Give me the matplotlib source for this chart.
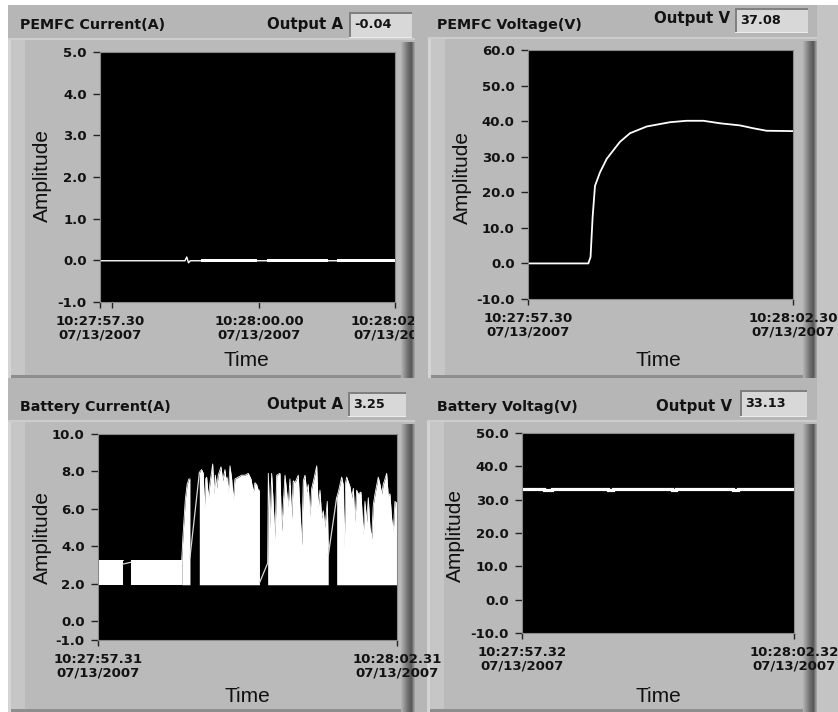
import matplotlib
matplotlib.use("Agg")
import matplotlib.pyplot as plt
from matplotlib.patches import Rectangle
from matplotlib.transforms import Bbox, TransformedBbox

W, H = 838, 712

# ---------------- data ----------------
# PEMFC current (A)
pi_xticks = [0.0, 2.7, 5.0]
pi_xminor = [0.2]
pi_xlabels = ["10:27:57.30\n07/13/2007", "10:28:00.00\n07/13/2007", "10:28:02.30\n07/13/2007"]
pi_yticks = [-1.0, 0.0, 1.0, 2.0, 3.0, 4.0, 5.0]
pi_ylabels = ["-1.0", "0.0", "1.0", "2.0", "3.0", "4.0", "5.0"]
pi_line_t = [0.0, 1.44, 1.47, 1.50, 1.53, 5.0]
pi_line_v = [-0.01, -0.01, 0.08, -0.06, -0.01, -0.01]
pi_band_start = [1.72, 2.83, 4.01]
pi_band_end = [2.66, 3.87, 5.0]
pi_band_lo = -0.045
pi_band_hi = 0.04
pi_output = "-0.04"

# PEMFC voltage (V)
pv_xticks = [0.0, 5.0]
pv_xlabels = ["10:27:57.30\n07/13/2007", "10:28:02.30\n07/13/2007"]
pv_yticks = [-10, 0, 10, 20, 30, 40, 50, 60]
pv_ylabels = ["-10.0", "0.0", "10.0", "20.0", "30.0", "40.0", "50.0", "60.0"]
pv_t = [0.0, 1.138, 1.18, 1.22, 1.264, 1.358, 1.485, 1.61, 1.736, 1.925, 2.24,
        2.68, 2.99, 3.31, 3.62, 4.0, 4.25, 4.50, 5.0]
pv_v = [0.0, 0.0, 1.8, 13.2, 21.8, 25.6, 29.4, 31.8, 34.2, 36.6, 38.5,
        39.7, 40.1, 40.1, 39.4, 38.8, 38.0, 37.3, 37.2]
pv_output = "37.08"

# Battery current (A)
bi_xticks = [0.0, 5.0]
bi_xlabels = ["10:27:57.31\n07/13/2007", "10:28:02.31\n07/13/2007"]
bi_yticks = [-1.0, 0.0, 2.0, 4.0, 6.0, 8.0, 10.0]
bi_ylabels = ["-1.0", "0.0", "2.0", "4.0", "6.0", "8.0", "10.0"]
bi_low = 1.95
b1_t = [0.0, 0.413]
b1_hi = [3.25, 3.25]
b2_t = [0.547, 1.40]
b2_hi = [3.25, 3.25]
b_ramp_t = [1.40, 1.42, 1.46, 1.49, 1.52, 1.538]
b_ramp_hi = [3.3, 4.5, 6.5, 7.3, 7.6, 7.6]
b3_t = [1.694, 1.705, 1.733, 1.761, 1.778, 1.80, 1.817, 1.845, 1.873, 1.918,
        1.94, 1.962, 1.985, 2.01, 2.057, 2.085, 2.123, 2.14, 2.157, 2.179,
        2.207, 2.235, 2.262, 2.29, 2.346, 2.40, 2.458, 2.513, 2.558, 2.597,
        2.625, 2.653, 2.68, 2.70]
b3_hi = [7.9, 8.0, 8.1, 7.9, 5.95, 7.6, 7.7, 6.6, 7.4, 8.4,
         6.8, 7.8, 7.1, 7.8, 8.25, 7.5, 8.1, 7.5, 7.7, 6.9,
         8.3, 7.6, 6.5, 7.6, 7.7, 7.8, 7.8, 7.9, 7.6, 6.9,
         7.4, 7.3, 7.0, 7.0]
b4_t = [2.837, 2.848, 2.876, 2.904, 2.96, 2.988, 3.043, 3.071, 3.127, 3.18,
        3.21, 3.239, 3.265, 3.294, 3.349, 3.406, 3.433, 3.461, 3.49, 3.516,
        3.545, 3.573, 3.61, 3.657, 3.683, 3.712, 3.74, 3.767, 3.795, 3.834,
        3.85]
b4_hi = [3.1, 7.9, 5.0, 7.9, 4.4, 7.8, 7.9, 4.8, 7.8, 6.1,
         7.6, 5.5, 7.5, 7.4, 7.8, 4.05, 7.5, 7.8, 6.9, 7.3,
         5.6, 7.1, 7.6, 8.3, 6.05, 7.0, 5.5, 5.9, 5.0, 6.4,
         4.0]
b5_t = [3.991, 4.018, 4.075, 4.10, 4.118, 4.14, 4.158, 4.213, 4.242, 4.27,
        4.297, 4.325, 4.352, 4.397, 4.436, 4.464, 4.493, 4.52, 4.548, 4.576,
        4.603, 4.632, 4.687, 4.716, 4.744, 4.77, 4.827, 4.854, 4.882, 4.91,
        4.938, 4.966, 5.0]
b5_hi = [6.6, 6.9, 7.7, 7.3, 3.95, 7.4, 7.7, 7.2, 6.6, 7.1,
         5.3, 7.0, 6.8, 6.9, 4.6, 6.4, 5.3, 6.6, 5.0, 4.4,
         6.2, 6.8, 7.7, 7.3, 6.8, 7.3, 7.9, 6.7, 6.8, 5.5,
         4.8, 6.4, 6.3]
gap_t = [[0.413, 0.547], [1.538, 1.694], [2.70, 2.837], [3.85, 3.991]]
gap_v = [[3.05, 3.15], [3.4, 7.9], [2.05, 3.1], [3.5, 6.6]]
bi_output = "3.25"

# Battery voltage (V)
bv_xticks = [0.0, 5.0]
bv_xlabels = ["10:27:57.32\n07/13/2007", "10:28:02.32\n07/13/2007"]
bv_yticks = [-10, 0, 10, 20, 30, 40, 50]
bv_ylabels = ["-10.0", "0.0", "10.0", "20.0", "30.0", "40.0", "50.0"]
bv_t = [0.0, 0.40, 0.40, 0.56, 0.56, 1.58, 1.58, 1.67, 1.67, 2.75, 2.75, 2.83,
        2.83, 3.88, 3.88, 3.97, 3.97, 5.0]
bv_v = [33.2, 33.2, 32.9, 32.9, 33.2, 33.2, 32.9, 32.9, 33.2, 33.2, 32.9, 32.9,
        33.2, 33.2, 32.9, 32.9, 33.2, 33.2]
bv_output = "33.13"

titles = ["PEMFC Current(A)", "PEMFC Voltage(V)", "Battery Current(A)", "Battery Voltag(V)"]
out_names = ["Output A", "Output V", "Output A", "Output V"]

# ---------------- helpers ----------------
plt.rcParams['font.family'] = ['DejaVu Sans']
plt.rcParams['font.weight'] = 'bold'

fig = plt.figure(figsize=(W / 100, H / 100), dpi=100, facecolor='white')

MAIN = '#b6b6b6'
FACE = '#bababa'
TXT = '#121212'


def rect(x0, y0, x1, y1, color, z=-5):
    fig.add_artist(Rectangle((x0 / W, 1 - y1 / H), (x1 - x0) / W, (y1 - y0) / H,
                             transform=fig.transFigure, facecolor=color,
                             edgecolor='none', zorder=z))


def frame(x0, y0, x1, y1):
    rect(x0, y0, x1, y1, FACE, -4)
    rect(x0, y0, x0 + 17, y1, '#c6c6c6', -3.9)
    rect(x0, y0, x0 + 3, y1, '#d4d4d4', -3.8)
    rect(x0, y0, x1, y0 + 2, '#cdcdcd', -3.8)
    shades = ['#b0b0b0', '#a6a6a6', '#9c9c9c', '#929292', '#888888', '#7e7e7e',
              '#747474', '#6c6c6c', '#646464', '#5e5e5e', '#5a5a5a', '#707070',
              '#8a8a8a', '#a0a0a0']
    n = len(shades)
    for i, c in enumerate(shades):
        rect(x1 - n + i, y0 + 4, x1 - n + i + 1, y1, c, -3.7)
    rect(x0 + 3, y1 - 3, x1 - n, y1, '#8e8e8e', -3.7)


def box(x0, y0, x1, y1, text):
    rect(x0, y0, x1, y1, '#d8d8d8', -3)
    rect(x0, y0, x1, y0 + 2, '#808080', -2.9)
    rect(x0, y0, x0 + 2, y1, '#808080', -2.9)
    rect(x0, y1 - 1, x1, y1, '#ececec', -2.9)
    fig.text((x0 + 5) / W, 1 - (y0 + y1) / 2 / H, text, ha='left', va='center',
             fontsize=9.3, color=TXT)


def make_ax(x0, y0, x1, y1, ylim, yticks, ylabels, xticks, xlabels, xminor=None):
    ax = fig.add_axes([x0 / W, 1 - y1 / H, (x1 - x0) / W, (y1 - y0) / H])
    ax.set_facecolor('black')
    ax.set_xlim(0, 5)
    ax.set_ylim(*ylim)
    ax.set_yticks(yticks)
    ax.set_yticklabels(ylabels)
    ax.set_xticks(xticks)
    ax.set_xticklabels(xlabels)
    if xminor:
        ax.set_xticks(xminor, minor=True)
    ax.tick_params(axis='y', direction='out', length=5, width=1.0, pad=4.5,
                   colors='#222222', labelsize=9.5, labelcolor=TXT)
    ax.tick_params(axis='x', which='both', direction='out', length=4.5, width=1.0,
                   pad=5, colors='#222222', labelsize=9.5, labelcolor=TXT)
    for lab in ax.get_xticklabels():
        lab.set_linespacing(1.05)
    for s in ax.spines.values():
        s.set_color('#8a8a8a')
        s.set_linewidth(0.8)
    return ax


def label_texts(ampx, ampy, timex, timey):
    fig.text(ampx / W, 1 - ampy / H, "Amplitude", rotation=90, ha='center', va='center',
             family='Liberation Sans', weight='normal', fontsize=15, color='#101010')
    fig.text(timex / W, 1 - timey / H, "Time", ha='center', va='center',
             family='Liberation Sans', weight='normal', fontsize=15, color='#101010')


# ---------------- background ----------------
rect(8, 5, W, H, MAIN, -6)
rect(817, 5, W, H, '#c4c4c4', -5.5)

frame(8, 38, 415, 378)
frame(428, 37, 817, 378)
frame(8, 420, 415, 712)
frame(427, 420, 817, 712)

box(349, 12, 412, 38, pi_output)
box(735, 8, 808, 33, pv_output)
box(348, 392, 406, 417, bi_output)
box(740, 390, 807, 417, bv_output)

title_pos = [(20, 25), (437, 25), (20, 407), (437, 407)]
out_pos = [(343, 25), (730, 19), (343, 405), (732, 407)]
for (tx, ty), t in zip(title_pos, titles):
    fig.text(tx / W, 1 - ty / H, t, ha='left', va='center', fontsize=10.3, color=TXT)
for (ox, oy), t in zip(out_pos, out_names):
    fig.text(ox / W, 1 - oy / H, t, ha='right', va='center', fontsize=10.8, color=TXT)

# ---------------- PEMFC current ----------------
ax1 = make_ax(100, 52, 395, 302, (-1, 5), pi_yticks, pi_ylabels, pi_xticks, pi_xlabels,
              xminor=pi_xminor)
ax1.plot(pi_line_t, pi_line_v, color='white', lw=1.0)
for s, e in zip(pi_band_start, pi_band_end):
    ax1.fill_between([s, e], [pi_band_lo, pi_band_lo], [pi_band_hi, pi_band_hi],
                     color='white', lw=0)
clip = TransformedBbox(Bbox.from_extents(0, 0, 414 / W, 1), fig.transFigure)
for lab in ax1.get_xticklabels():
    lab.set_clip_on(True)
    lab.set_clip_box(clip)
label_texts(42, 175, 246, 360)

# ---------------- PEMFC voltage ----------------
ax2 = make_ax(528, 50, 793, 299, (-10, 60), pv_yticks, pv_ylabels, pv_xticks, pv_xlabels)
ax2.plot(pv_t, pv_v, color='white', lw=1.3)
label_texts(462, 177, 658, 360)

# ---------------- Battery current ----------------
ax3 = make_ax(98, 434, 397, 640, (-1, 10), bi_yticks, bi_ylabels, bi_xticks, bi_xlabels)
for t, hi in [(b1_t, b1_hi), (b2_t, b2_hi), (b_ramp_t, b_ramp_hi),
              (b3_t, b3_hi), (b4_t, b4_hi), (b5_t, b5_hi)]:
    ax3.fill_between(t, [bi_low] * len(t), hi, color='white', lw=0)
    ax3.plot(t, hi, color='white', lw=0.6)
for t, v in zip(gap_t, gap_v):
    ax3.plot(t, v, color='#d8d8d8', lw=0.9)
label_texts(42, 537, 247, 697)

# ---------------- Battery voltage ----------------
ax4 = make_ax(522, 433, 794, 633, (-10, 50), bv_yticks, bv_ylabels, bv_xticks, bv_xlabels)
ax4.plot(bv_t, bv_v, color='white', lw=2.3, solid_joinstyle='miter')
label_texts(455, 535, 658, 696)

fig.savefig("out.png", dpi=100, facecolor=fig.get_facecolor())
